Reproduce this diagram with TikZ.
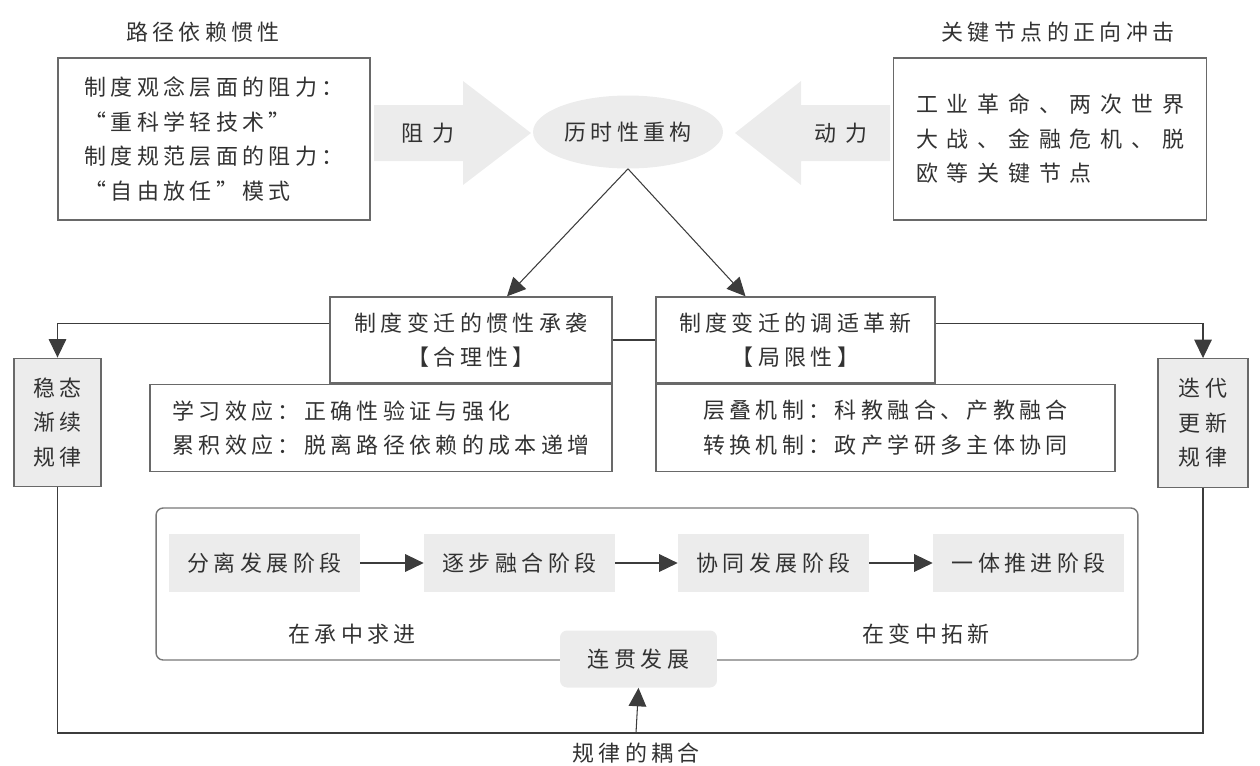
\documentclass[tikz,border=0pt]{standalone}
\usepackage{fontspec}
\setmainfont{Noto Sans CJK SC}[LetterSpace=20]
\newfontfamily\cjkWide{Noto Sans CJK SC}[LetterSpace=40]
\usetikzlibrary{shapes.geometric, arrows.meta, calc}
\definecolor{cLine}{RGB}{60, 60, 60}
\definecolor{cBorder}{RGB}{105, 105, 105}
\definecolor{cFill}{RGB}{236, 236, 236}
\definecolor{cText}{RGB}{50, 50, 50}
\tikzset{
    x=0.02cm, y=-0.02cm,
    font=\fontsize{12.5pt}{19.6pt}\selectfont,
    every node/.append style={text=cText},
    % --- boxes ---
    plainBox/.style={
        rectangle, draw=cBorder, line width=0.8pt, fill=white,
        inner sep=0pt, align=center
    },
    grayBox/.style={
        rectangle, fill=cFill, inner sep=0pt, align=center
    },
    lawBox/.style={
        grayBox, draw=cBorder, line width=0.8pt,
        minimum height=2.57cm
    },
    stageBox/.style={
        grayBox, minimum width=3.82cm, minimum height=1.16cm
    },
    % --- connectors ---
    conn/.style={
        draw=cLine, line width=0.6pt,
        -{Triangle[length=10.5pt, width=10pt]}
    },
    link/.style={draw=cLine, line width=0.6pt}
}

\begin{document}
\begin{tikzpicture}
    \useasboundingbox (0,0) rectangle (1260,765);

    % titles
    \node (tPath) at (203,32) {路径依赖惯性};
    \node (tShock) at (1058,32) {关键节点的正向冲击};

    % top boxes
    \node[plainBox, align=left, minimum width=6.24cm, minimum height=3.24cm] (resist) at (214,139) {
        制度观念层面的阻力：\\
        “重科学轻技术”\\
        制度规范层面的阻力：\\
        “自由放任”模式
    };
    \node[plainBox, align=left, minimum width=6.26cm, minimum height=3.24cm] (shock) at (1050,139) {
        \cjkWide 工业革命、两次世界\\
        \cjkWide 大战、金融危机、脱\\
        \cjkWide 欧等关键节点
    };

    % block arrows
    \fill[cFill] (374,105) -- (463,105) -- (463,81) -- (531,133) -- (463,185) -- (463,161) -- (374,161) -- cycle;
    \fill[cFill] (890,105) -- (801,105) -- (801,81) -- (735,133) -- (801,185) -- (801,161) -- (890,161) -- cycle;
    \node (lResist) at (428,133) {\cjkWide 阻力};
    \node (lDrive) at (841,133) {\cjkWide 动力};

    % centre
    \node[ellipse, fill=cFill, inner sep=0pt, minimum width=3.8cm, minimum height=1.46cm] (recon) at (628,132) {历时性重构};

    % middle boxes
    \node[plainBox, minimum width=5.64cm, minimum height=1.72cm] (inherit) at (471,340) {
        制度变迁的惯性承袭\\【合理性】
    };
    \node[plainBox, align=left, minimum width=9.24cm, minimum height=1.74cm, anchor=north east] (effect) at (inherit.south east) {
        学习效应：正确性验证与强化\\
        累积效应：脱离路径依赖的成本递增
    };
    \node[plainBox, minimum width=5.58cm, minimum height=1.72cm] (adapt) at (795.5,340) {
        制度变迁的调适革新\\【局限性】
    };
    \node[plainBox, align=left, minimum width=9.18cm, minimum height=1.74cm, anchor=north west] (mech) at (adapt.south west) {
        层叠机制：科教融合、产教融合\\
        转换机制：政产学研多主体协同
    };

    % side boxes
    \node[lawBox, minimum width=1.74cm] (steady) at (57.5,422.5) {稳态\\渐续\\规律};
    \node[lawBox, minimum width=1.8cm] (iter) at (1203,423) {迭代\\更新\\规律};

    % stages
    \node[plainBox, draw=cBorder!90, rounded corners=4pt, minimum width=19.64cm, minimum height=3.04cm] (frame) at (647,584) {};
    \node[stageBox] (s1) at (264.5,563) {分离发展阶段};
    \node[stageBox] (s2) at (519.5,563) {逐步融合阶段};
    \node[stageBox] (s3) at (773.5,563) {协同发展阶段};
    \node[stageBox] (s4) at (1028.5,563) {一体推进阶段};
    \node (lKeep) at (352,634) {在承中求进};
    \node (lNew) at (926,634) {在变中拓新};
    \node[grayBox, rounded corners=4pt, minimum width=3.14cm, minimum height=1.14cm] (cohere) at (638.5,659) {连贯发展};

    \coordinate (couple) at (636,733);
    \node (lCouple) at (636,753) {规律的耦合};

    % connectors
    \draw[conn] (recon.south) -- ($(inherit.north)+(36,0)$);
    \draw[conn] (recon.south) -- ($(adapt.north)+(-50,0)$);
    \draw[link] (inherit.east) -- (adapt.west);
    \draw[conn] ([yshift=9.6pt]inherit.west) -| (steady.north);
    \draw[conn] ([yshift=9.6pt]adapt.east) -| (iter.north);
    \draw[conn] (s1) -- (s2);
    \draw[conn] (s2) -- (s3);
    \draw[conn] (s3) -- (s4);
    \draw[link] (steady.south) |- (couple) -| (iter.south);
    \draw[conn] (couple) -- (cohere.south);

\end{tikzpicture}
\end{document}
